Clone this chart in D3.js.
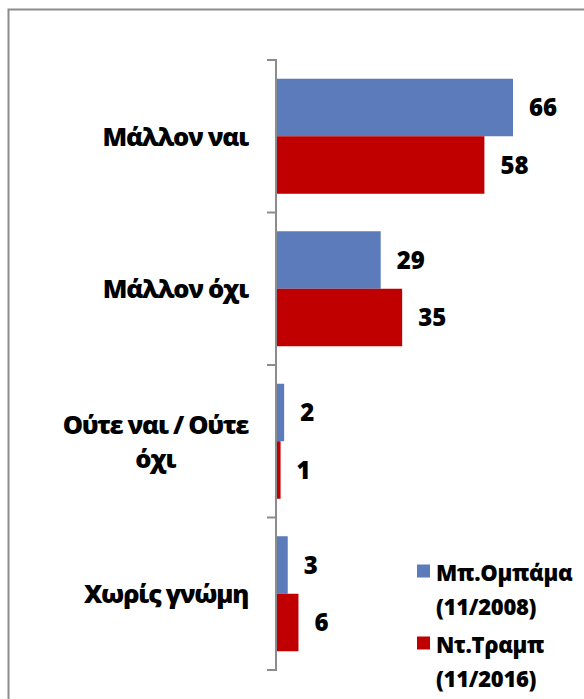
<!DOCTYPE html>
<html><head><meta charset="utf-8">
<script src="https://cdn.jsdelivr.net/npm/d3@7"></script>
<style>
html,body{margin:0;padding:0;background:#fff;}
svg{display:block;font-family:"Open Sans",sans-serif;font-weight:800;}
</style></head>
<body>
<svg id="c" width="584" height="699"></svg>
<script>
const categories = [["Μάλλον ναι"], ["Μάλλον όχι"], ["Ούτε ναι / Ούτε", "όχι"], ["Χωρίς γνώμη"]];
const seriesNames = [["Μπ.Ομπάμα", "(11/2008)"], ["Ντ.Τραμπ", "(11/2016)"]];
const obamaValues = [66, 29, 2, 3];
const trumpValues = [58, 35, 1, 6];
const colors = ["#5B7BBA", "#C00000"];

const svg = d3.select("#c");
svg.append("rect").attr("x", 8.5).attr("y", 9.5).attr("width", 620).attr("height", 720)
  .attr("fill", "#fff").attr("stroke", "#8c8c8c").attr("stroke-width", 2);

const catIdx = d3.range(categories.length);
const y = d3.scaleBand().domain(catIdx).range([60, 670]).paddingInner(0).paddingOuter(0);
const ySub = d3.scaleBand().domain([0, 1]).range([0, y.bandwidth()]).paddingInner(0).paddingOuter(0.326);
const x = d3.scaleLinear().domain([0, 70]).range([277, 277 + 3.576 * 70]);

const series = [obamaValues, trumpValues];

// bars
series.forEach((vals, s) => {
  svg.append("g").selectAll("rect").data(vals).join("rect")
    .attr("x", x(0))
    .attr("y", (d, i) => y(i) + ySub(s))
    .attr("width", d => x(d) - x(0))
    .attr("height", ySub.bandwidth())
    .attr("fill", colors[s]);
  svg.append("g").selectAll("text").data(vals).join("text")
    .attr("x", d => x(d) + 16)
    .attr("y", (d, i) => y(i) + ySub(s) + ySub.bandwidth() / 2)
    .attr("dy", "0.36em")
    .attr("font-size", 24)
    .attr("fill", "#000")
    .text(d => d);
});

// axis
const axisG = svg.append("g");
axisG.append("line").attr("x1", 276).attr("x2", 276).attr("y1", 59).attr("y2", 671)
  .attr("stroke", "#8c8c8c").attr("stroke-width", 2);
const tickYs = catIdx.map(i => y(i)).concat([y.range()[1]]);
axisG.selectAll("line.tick").data(tickYs).join("line").attr("class", "tick")
  .attr("x1", 267).attr("x2", 277).attr("y1", d => d).attr("y2", d => d)
  .attr("stroke", "#8c8c8c").attr("stroke-width", 2);

// category labels
const labelRight = 248;
const lineGap = 34;
categories.forEach((lines, i) => {
  const cy = y(i) + y.bandwidth() / 2;
  const g = svg.append("g");
  const n = lines.length;
  const ts = lines.map((t, k) => g.append("text")
    .attr("font-size", 25.5).attr("letter-spacing", -1.3).attr("fill", "#000")
    .attr("y", cy + 9.5 - (n - 1) * lineGap / 2 + k * lineGap)
    .attr("text-anchor", "middle")
    .text(t));
  const maxW = d3.max(ts, t => t.node().getComputedTextLength());
  ts.forEach(t => t.attr("x", labelRight - maxW / 2));
});

// legend
const legY = [571, 643];
seriesNames.forEach((lines, s) => {
  svg.append("rect").attr("x", 417).attr("y", legY[s] - 6.5).attr("width", 13).attr("height", 13)
    .attr("fill", colors[s]);
  lines.forEach((t, k) => {
    svg.append("text").attr("x", 436).attr("y", legY[s] + 10 + k * 34)
      .attr("font-size", 22).attr("letter-spacing", -0.3).attr("fill", "#000").text(t);
  });
});
</script>
</body></html>
